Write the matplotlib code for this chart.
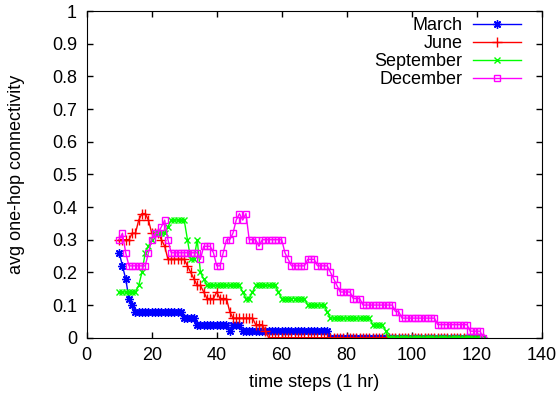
import matplotlib
matplotlib.use("Agg")
import matplotlib.pyplot as plt

plt.rcParams['font.family'] = ['Liberation Sans', 'DejaVu Sans']

# time steps (hours)
hours = list(range(10, 123))

march = [0.26, 0.22, 0.18, 0.12, 0.10,
         0.08, 0.08, 0.08, 0.08, 0.08, 0.08, 0.08, 0.08, 0.08, 0.08, 0.08, 0.08, 0.08, 0.08, 0.08,
         0.06, 0.06, 0.06, 0.06,
         0.04, 0.04, 0.04, 0.04, 0.04, 0.04, 0.04, 0.04, 0.04, 0.04,
         0.02, 0.04, 0.04, 0.04,
         0.02, 0.02, 0.02, 0.02, 0.02, 0.02, 0.02, 0.02, 0.02, 0.02, 0.02, 0.02, 0.02, 0.02,
         0.02, 0.02, 0.02, 0.02, 0.02, 0.02, 0.02, 0.02, 0.02, 0.02, 0.02, 0.02, 0.02,
         0, 0, 0, 0, 0, 0, 0, 0, 0, 0, 0, 0, 0, 0, 0, 0, 0, 0, 0, 0, 0, 0, 0, 0,
         0, 0, 0, 0, 0, 0, 0, 0, 0, 0, 0, 0, 0, 0, 0, 0, 0, 0, 0, 0, 0, 0, 0, 0]

june = [0.30, 0.30, 0.30, 0.30, 0.32, 0.32, 0.36, 0.38, 0.38, 0.36,
        0.32, 0.32, 0.32, 0.30, 0.28, 0.24, 0.24, 0.24, 0.24, 0.24,
        0.24, 0.22, 0.20, 0.18, 0.16, 0.16, 0.14, 0.12, 0.12, 0.12,
        0.14, 0.12, 0.12, 0.12, 0.08, 0.06, 0.06, 0.06, 0.06, 0.06,
        0.06, 0.06, 0.04, 0.04, 0.04, 0.02,
        0, 0, 0, 0, 0, 0, 0, 0, 0, 0, 0, 0, 0, 0, 0, 0, 0, 0, 0, 0, 0, 0,
        0, 0, 0, 0, 0, 0, 0, 0, 0, 0, 0, 0, 0, 0, 0, 0, 0, 0, 0, 0, 0, 0,
        0, 0, 0, 0, 0, 0, 0, 0, 0, 0, 0, 0, 0, 0, 0, 0, 0, 0, 0, 0, 0, 0, 0]

september = [0.14, 0.14, 0.14, 0.14, 0.14, 0.14, 0.16, 0.20, 0.26, 0.28,
             0.30, 0.32, 0.32, 0.32, 0.32, 0.34, 0.36, 0.36, 0.36, 0.36,
             0.36, 0.30, 0.24, 0.24, 0.30, 0.20, 0.18, 0.16, 0.16, 0.16,
             0.16, 0.16, 0.16, 0.16, 0.16, 0.16, 0.16, 0.16, 0.14, 0.12,
             0.12, 0.14, 0.16, 0.16, 0.16, 0.16, 0.16, 0.16, 0.16, 0.14,
             0.12, 0.12, 0.12, 0.12, 0.12, 0.12, 0.12, 0.12, 0.10, 0.10,
             0.10, 0.10, 0.10, 0.10, 0.08, 0.06, 0.06, 0.06, 0.06, 0.06,
             0.06, 0.06, 0.06, 0.06, 0.06, 0.06, 0.06, 0.06, 0.04, 0.04,
             0.04, 0.04, 0.02,
             0, 0, 0, 0, 0, 0, 0, 0, 0, 0, 0, 0, 0, 0, 0,
             0, 0, 0, 0, 0, 0, 0, 0, 0, 0, 0, 0, 0, 0, 0]

december = [0.30, 0.32, 0.26, 0.22, 0.22, 0.22, 0.22, 0.22, 0.22, 0.26,
            0.30, 0.32, 0.32, 0.34, 0.36, 0.30, 0.26, 0.26, 0.26, 0.26,
            0.26, 0.26, 0.26, 0.26, 0.26, 0.24, 0.28, 0.28, 0.28, 0.26,
            0.22, 0.22, 0.26, 0.30, 0.30, 0.32, 0.36, 0.38, 0.36, 0.38,
            0.30, 0.30, 0.30, 0.28, 0.30, 0.30, 0.30, 0.30, 0.30, 0.30,
            0.30, 0.26, 0.24, 0.22, 0.22, 0.22, 0.22, 0.22, 0.24, 0.24,
            0.24, 0.22, 0.22, 0.22, 0.22, 0.20, 0.18, 0.16, 0.14, 0.14,
            0.14, 0.14, 0.12, 0.12, 0.12, 0.10, 0.10, 0.10, 0.10, 0.10,
            0.10, 0.10, 0.10, 0.10, 0.10, 0.08, 0.08, 0.06, 0.06, 0.06,
            0.06, 0.06, 0.06, 0.06, 0.06, 0.06, 0.06, 0.06, 0.04, 0.04,
            0.04, 0.04, 0.04, 0.04, 0.04, 0.04, 0.04, 0.04, 0.02, 0.02,
            0.02, 0.02, 0]

x_ticks = [0, 20, 40, 60, 80, 100, 120, 140]
y_ticks = [0, 0.1, 0.2, 0.3, 0.4, 0.5, 0.6, 0.7, 0.8, 0.9, 1]
y_labels = ["0", "0.1", "0.2", "0.3", "0.4", "0.5", "0.6", "0.7", "0.8", "0.9", "1"]

fs = 13

fig = plt.figure(figsize=(5.59, 3.95), dpi=100)
ax = fig.add_axes([0.1551, 0.145, 0.814, 0.827])

ax.plot(hours, march, color='#0000ff', lw=1, marker=(8, 2, 0), ms=6, mew=1,
        label='March')
ax.plot(hours, june, color='#ff0000', lw=1, marker='+', ms=7, mew=1,
        label='June')
ax.plot(hours, september, color='#00ff00', lw=1, marker='x', ms=5, mew=1,
        label='September')
ax.plot(hours, december, color='#ff00ff', lw=1, marker='s', ms=5, mew=1,
        mfc='none', label='December')

ax.set_xlim(0, 140)
ax.set_ylim(0, 1)
ax.set_xticks(x_ticks)
ax.set_yticks(y_ticks)
ax.set_yticklabels(y_labels)
ax.tick_params(direction='in', length=4, width=1, top=True, right=True,
               labelsize=fs, pad=7)

ax.set_xlabel('time steps (1 hr)', fontsize=fs, labelpad=7)
ax.set_ylabel('avg one-hop connectivity', fontsize=fs, labelpad=19)

ax.legend(loc='upper right', bbox_to_anchor=(0.955, 0.981), frameon=False,
          markerfirst=False, fontsize=fs, handlelength=2.7,
          handletextpad=0.55, labelspacing=0.05, borderaxespad=0,
          borderpad=0)

fig.savefig('out.png', dpi=100)
